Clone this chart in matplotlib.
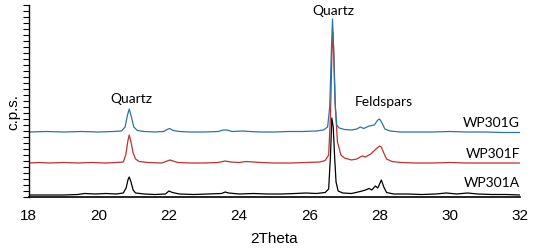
import matplotlib.pyplot as plt

# XRD traces (2theta, counts with offset)
blue_x = [18.0, 18.5, 19.0, 19.5, 20.0, 20.4, 20.65, 20.75, 20.82, 20.87, 20.93, 21.0, 21.1, 21.3,
          21.6, 21.85, 21.95, 22.02, 22.12, 22.3, 22.6, 23.0, 23.4, 23.55, 23.65, 23.8, 24.1, 24.3,
          24.6, 25.0, 25.4, 25.8, 26.2, 26.4, 26.52, 26.58, 26.63, 26.66, 26.69, 26.73, 26.78, 26.85,
          27.0, 27.2, 27.35, 27.45, 27.55, 27.7, 27.85, 27.95, 28.0, 28.07, 28.15, 28.3, 28.6, 29.0,
          29.5, 30.0, 30.5, 31.0, 31.5, 32.0]
blue_y = [65, 65.5, 65, 65.5, 65, 65.5, 66, 70, 82, 88, 80, 70, 66.5, 65.5,
          65, 65.5, 67.5, 68.5, 66.5, 65.5, 65, 65, 65.5, 67, 67, 65.5, 66, 65.5,
          65, 65, 65.5, 65.5, 66, 67, 70, 90, 150, 178, 150, 95, 72, 69,
          67.5, 67, 68, 70, 68.5, 71, 72, 77, 78, 74, 68, 66, 65, 65,
          65, 65.5, 65, 65, 64.5, 64.5]

red_x = [18.0, 18.3, 18.6, 19.0, 19.4, 19.8, 20.2, 20.5, 20.7, 20.77, 20.83, 20.87, 20.92, 20.98,
         21.05, 21.15, 21.4, 21.8, 21.95, 22.03, 22.12, 22.25, 22.6, 23.0, 23.4, 23.6, 23.75, 24.0,
         24.2, 24.4, 24.6, 25.0, 25.5, 25.9, 26.3, 26.45, 26.55, 26.6, 26.64, 26.67, 26.7, 26.74,
         26.8, 26.9, 27.0, 27.2, 27.35, 27.5, 27.6, 27.75, 27.9, 28.0, 28.05, 28.12, 28.2, 28.35,
         28.6, 29.0, 29.5, 30.0, 30.5, 31.0, 31.5, 32.0]
red_y = [34, 34.5, 34, 34.5, 34, 34.5, 34, 34.5, 35, 42, 56, 62, 55, 44,
         38, 35.5, 34.5, 34, 36, 37, 36, 34.5, 34, 34, 34.5, 36, 35, 34.5,
         35.5, 35, 34.5, 34, 34, 34.5, 35, 36.5, 42, 80, 140, 165, 140, 90,
         55, 42, 39, 37, 38, 41, 40, 43, 48, 51, 50, 44, 38, 35.5,
         34.5, 34, 34, 34.5, 34, 34, 34, 34]

black_x = [18.0, 18.5, 19.0, 19.4, 19.6, 19.9, 20.2, 20.5, 20.7, 20.78, 20.84, 20.87, 20.92, 20.98,
           21.05, 21.3, 21.6, 21.9, 22.0, 22.1, 22.3, 22.7, 23.1, 23.5, 23.6, 23.7, 24.0, 24.4,
           24.8, 25.2, 25.6, 25.9, 26.2, 26.45, 26.55, 26.6, 26.64, 26.68, 26.72, 26.76, 26.82, 26.95,
           27.2, 27.45, 27.6, 27.7, 27.78, 27.88, 27.95, 28.05, 28.12, 28.2, 28.4, 28.8, 29.2, 29.6,
           29.9, 30.2, 30.5, 30.8, 31.2, 31.6, 32.0]
black_y = [2, 2, 2, 2.5, 3.5, 3, 3.5, 3, 4, 9, 18, 20, 15, 7,
           4, 3, 2.5, 3, 6, 4.5, 3, 2.5, 3, 3.5, 5, 4, 3, 3.5,
           3, 3, 3.5, 4, 3.5, 4.5, 8, 40, 79, 70, 40, 15, 6, 4,
           3.5, 5.5, 7, 8.5, 7, 11, 9, 17, 10, 4.5, 3, 3, 2.5, 3,
           4, 3, 4, 3, 2.5, 2.5, 2]

x_ticks = [18, 20, 22, 24, 26, 28, 30, 32]
sample_names = ['WP301G', 'WP301F', 'WP301A']

fig = plt.figure(figsize=(5.44, 2.49), dpi=100)
ax = fig.add_axes([28.5 / 544, 1 - 197 / 249, 491.5 / 544, 192 / 249])

ax.plot(black_x, black_y, color='black', lw=0.9)
ax.plot(red_x, red_y, color='#c0302e', lw=0.9)
ax.plot(blue_x, blue_y, color='#2b74a6', lw=0.9)

ax.set_xlim(18, 32)
ax.set_ylim(0, 192)
ax.set_xticks(x_ticks)
ax.set_xticklabels([str(t) for t in x_ticks], fontfamily='Liberation Sans', fontsize=11)
ax.tick_params(axis='x', length=0, pad=9)
ax.set_yticks(range(0, 193, 6))
ax.set_yticklabels([])
ax.tick_params(axis='y', length=4, width=0.8, direction='out')
for s in ['top', 'right']:
    ax.spines[s].set_visible(False)
ax.spines['left'].set_linewidth(1.0)
ax.spines['bottom'].set_linewidth(1.2)

# annotations
lab = dict(fontfamily='Lato', fontsize=10, ha='center', va='center')
ax.text(20.92, 98, 'Quartz', **lab)
ax.text(26.68, 186, 'Quartz', **lab)
ax.text(28.13, 95, 'Feldspars', **lab)
for name, yy in zip(sample_names, [74, 43, 14]):
    ax.text(32.0, yy, name, fontfamily='Lato', fontsize=10, ha='right', va='center')

fig.text(13 / 544, 1 - 112 / 249, 'c.p.s.', rotation=90, ha='center', va='center',
         fontfamily='Liberation Sans', fontsize=11)
fig.text(274 / 544, 1 - 239 / 249, '2Theta', ha='center', va='center',
         fontfamily='Liberation Sans', fontsize=11)

fig.savefig('out.png', dpi=100)
